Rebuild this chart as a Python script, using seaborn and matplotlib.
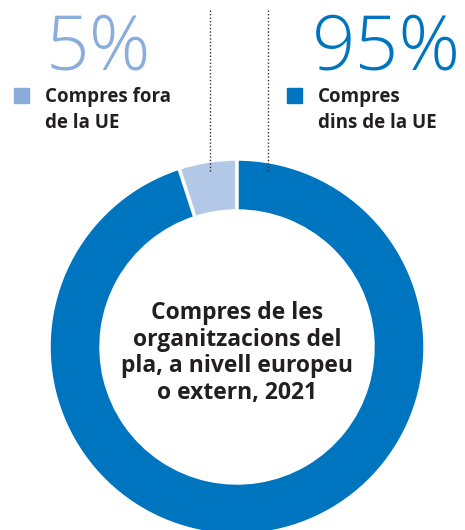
import matplotlib
matplotlib.use("Agg")
import matplotlib.pyplot as plt
import seaborn as sns

# dades
categories = [["Compres fora", "de la UE"], ["Compres", "dins de la UE"]]
values = [5, 95]
pct_labels = ["5%", "95%"]
colors = ["#b3c8e6", "#0075bf"]
legend_colors = ["#8aaddb", "#0075bf"]
title = "Compres de les\norganitzacions del\npla, a nivell europeu\no extern, 2021"

sns.set_theme(style="white")
plt.rcParams["font.family"] = ["Open Sans", "DejaVu Sans"]

fig = plt.figure(figsize=(4.65, 5.3), dpi=100)
ax = fig.add_axes([0, 0, 1, 1])

cx, cy, r = 237, 347, 188
# eix y invertit: començar a dalt i girar en sentit horari (visualment antihorari)
ax.pie(values, colors=colors, startangle=-90, counterclock=False,
       center=(cx, cy), radius=r, frame=True,
       wedgeprops=dict(width=52, edgecolor="white", linewidth=2.5))
ax.set_xlim(0, 465)
ax.set_ylim(530, 0)
ax.axis("off")

# linies de punts
for x in [210, 268]:
    ax.plot([x, x], [10, 173], color="#333333", linestyle=(0, (1, 1.5)), linewidth=1)

# percentatges i llegenda
pct_x = [98, 386]
leg_x = [14, 287]
for i in range(2):
    ax.text(pct_x[i], 69, pct_labels[i], color=legend_colors[i], fontsize=55,
            fontweight="light", ha="center", va="baseline")
    ax.add_patch(plt.Rectangle((leg_x[i], 88), 15, 15, color=legend_colors[i]))
    for j, line in enumerate(categories[i]):
        ax.text(leg_x[i] + 31, 102 + 26 * j, line, color="#231f20", fontsize=13.5,
                fontweight="bold", ha="left", va="baseline")

ax.text(cx, 353, title, color="#231f20", fontsize=16.5, fontweight="bold",
        ha="center", va="center", linespacing=1.15)

fig.savefig("out.png", dpi=100)
